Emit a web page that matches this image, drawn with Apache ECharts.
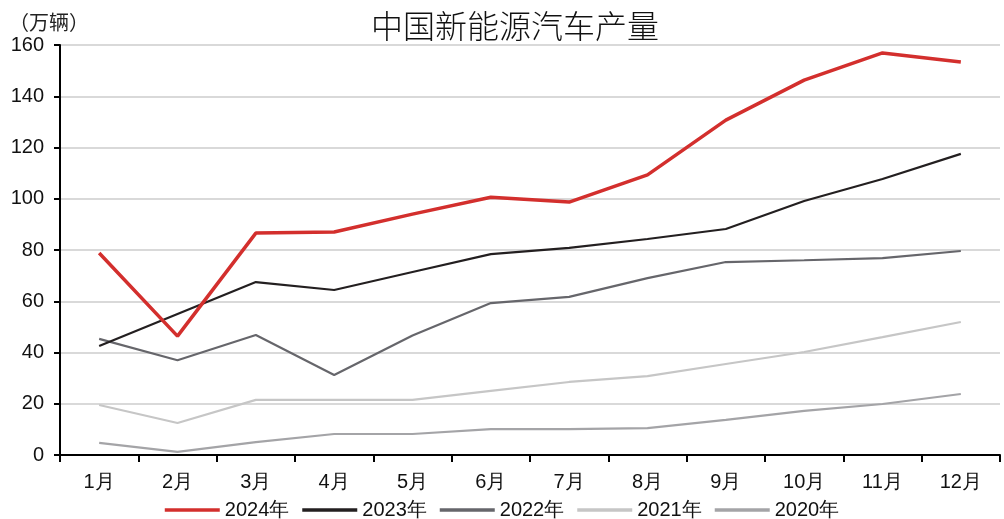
<!DOCTYPE html>
<html>
<head>
<meta charset="utf-8">
<script src="https://cdn.jsdelivr.net/npm/echarts@6/dist/echarts.min.js"></script>
<style>
  html, body { margin: 0; padding: 0; background: #fff; }
  #chart { width: 1004px; height: 519px; }
</style>
</head>
<body>
<div id="chart"></div>
<script>
// Monthly NEV output, 10k units
const months = ['1月', '2月', '3月', '4月', '5月', '6月', '7月', '8月', '9月', '10月', '11月', '12月'];
const y2024 = [78.8, 46.4, 86.6, 87.0, 94.0, 100.6, 98.7, 109.3, 130.7, 146.3, 156.9, 153.4];
const y2023 = [42.5, 55.0, 67.5, 64.4, 71.4, 78.4, 80.8, 84.3, 88.2, 99.1, 107.7, 117.5];
const y2022 = [45.3, 37.0, 46.8, 31.2, 46.6, 59.3, 61.7, 69.0, 75.3, 76.0, 76.8, 79.6];
const y2021 = [19.5, 12.5, 21.5, 21.5, 21.5, 25.0, 28.5, 30.8, 35.5, 40.2, 46.0, 51.9];
const y2020 = [4.7, 1.2, 5.0, 8.2, 8.2, 10.1, 10.1, 10.5, 13.7, 17.2, 19.9, 23.8];
const yTicks = { min: 0, max: 160, interval: 20 };

const font = '"Liberation Sans", Arial, sans-serif';
const cjk = '"Noto Sans CJK SC", sans-serif';
const seriesDefs = [
  { name: '2024年', data: y2024, color: '#d32f2d', width: 3.5 },
  { name: '2023年', data: y2023, color: '#231f20', width: 2.2 },
  { name: '2022年', data: y2022, color: '#66666b', width: 2.2 },
  { name: '2021年', data: y2021, color: '#c6c6c6', width: 2.2 },
  { name: '2020年', data: y2020, color: '#a4a4a7', width: 2.2 }
];

const chart = echarts.init(document.getElementById('chart'), null, { renderer: 'canvas' });
chart.setOption({
  animation: false,
  backgroundColor: '#fff',
  title: [
    { text: '中国新能源汽车产量', left: 366, top: 5,
      textStyle: { fontFamily: cjk, fontSize: 32, fontWeight: 300, color: '#111' } },
    { text: '（万辆）', left: 4, top: 7,
      textStyle: { fontFamily: cjk, fontSize: 20, fontWeight: 'normal', color: '#222' } }
  ],
  legend: {
    bottom: -1, left: 'center', padding: 0,
    icon: 'rect', itemWidth: 55, itemHeight: 3.5, itemGap: 13,
    textStyle: { fontFamily: font, fontSize: 20, color: '#111' },
    data: seriesDefs.map(s => s.name)
  },
  grid: { left: 60, right: 4, top: 45, bottom: 64 },
  xAxis: {
    type: 'category', data: months, boundaryGap: true,
    axisLine: { lineStyle: { color: '#000', width: 2 } },
    axisTick: { show: true, alignWithLabel: false, length: 7, lineStyle: { color: '#000', width: 2 } },
    axisLabel: { fontFamily: font, fontSize: 20, color: '#111', margin: 17 }
  },
  yAxis: {
    type: 'value', min: yTicks.min, max: yTicks.max, interval: yTicks.interval,
    axisLine: { show: true, lineStyle: { color: '#000', width: 2 } },
    axisTick: { show: true, length: 6, lineStyle: { color: '#000', width: 2 } },
    axisLabel: { fontFamily: font, fontSize: 20, color: '#111', margin: 16 },
    splitLine: { lineStyle: { color: '#d9d9d9', width: 2 } }
  },
  series: seriesDefs.map(s => ({
    name: s.name, type: 'line', data: s.data, symbol: 'none',
    lineStyle: { color: s.color, width: s.width },
    itemStyle: { color: s.color }
  })).reverse()
});
</script>
</body>
</html>
